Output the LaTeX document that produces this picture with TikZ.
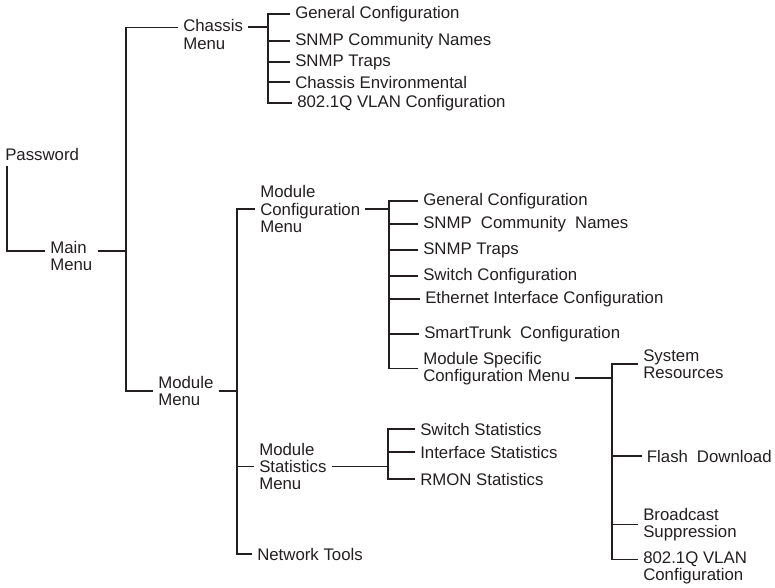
\documentclass[tikz,border=0pt]{standalone}
\usepackage{fontspec}
\setmainfont{Liberation Sans}
\usetikzlibrary{calc}
\definecolor{ink}{HTML}{231F20}
\begin{document}
\begin{tikzpicture}[x=0.75pt,y=-0.75pt,
  lbl/.style={anchor=west, align=left, inner xsep=3.75pt, inner ysep=1pt,
              text=ink, font=\fontsize{12.6}{12.8}\selectfont},
  conn/.style={line width=1.3pt, draw=ink}]
\useasboundingbox (0,0) rectangle (775,587);
% nodes
\node[lbl] (pw) at (0,154) {Password};
\node[lbl] (mainm) at (45,256) {Main\\Menu};
\node[lbl] (chm) at (178,34.5) {Chassis\\Menu};
\node[lbl] (cg1) at (290,14) {General Configuration};
\node[lbl] (cg2) at (290,41) {SNMP Community Names};
\node[lbl] (cg3) at (290,62) {SNMP Traps};
\node[lbl] (cg4) at (290,82) {Chassis Environmental};
\node[lbl] (cg5) at (292,103) {802.1Q VLAN Configuration};
\node[lbl] (modm) at (153,391) {Module\\Menu};
\node[lbl] (mcm) at (255,209) {Module\\Configuration\\Menu};
\node[lbl] (mc1) at (418,201) {General Configuration};
\node[lbl] (mc2) at (418,224) {SNMP\hspace{.27em} Community\hspace{.27em} Names};
\node[lbl] (mc3) at (418,250) {SNMP Traps};
\node[lbl] (mc4) at (418,276) {Switch Configuration};
\node[lbl] (mc5) at (420,299) {Ethernet Interface Configuration};
\node[lbl] (mc6) at (419,334) {SmartTrunk\hspace{.25em} Configuration};
\node[lbl] (mscm) at (418,368.5) {Module Specific\\Configuration Menu};
\node[lbl] (sysres) at (638,364) {System\\Resources};
\node[lbl] (flash) at (641.7,456) {Flash\hspace{.25em} Download};
\node[lbl] (bcast) at (638,524.5) {Broadcast\\Suppression};
\node[lbl] (vlan2) at (638,568) {802.1Q VLAN\\Configuration};
\node[lbl] (msm) at (254,466.5) {Module\\Statistics\\Menu};
\node[lbl] (st1) at (415,429) {Switch Statistics};
\node[lbl] (st2) at (415,452) {Interface Statistics};
\node[lbl] (st3) at (415,479) {RMON Statistics};
\node[lbl] (nt) at (252,554) {Network Tools};
% bus x positions and shifted anchors
\coordinate (bA) at (126,0);
\coordinate (bC) at (268,0);
\coordinate (bD) at (237,0);
\coordinate (bM) at (389,0);
\coordinate (bS) at (611.7,0);
\coordinate (bT) at (388,0);
\coordinate (pwD) at ([xshift=5.25pt,yshift=-3pt]pw.south west);
\coordinate (mainmL) at ([yshift=3.75pt]mainm.west);
\coordinate (mainmR) at ([yshift=3.75pt]mainm.east);
\coordinate (chmL) at ([yshift=5.3pt]chm.west);
\coordinate (chmR) at ([yshift=5.6pt]chm.east);
\coordinate (mscmR) at ([yshift=-7pt]mscm.east);
\coordinate (vlan2L) at ([yshift=6.4pt]vlan2.west);
% connectors
\draw[conn] (pwD) |- (mainmL);
\draw[conn] (mainmR) -- (bA |- mainmR);
\draw[conn] (chmL) -- (bA |- chmL) -- (bA |- modm.west) -- (modm.west);
\draw[conn] (chmR) -- (bC |- chmR);
\draw[conn] (cg1.west) -- (bC |- cg1.west) -- (bC |- cg5.west) -- (cg5.west);
\foreach \n in {cg2,cg3,cg4} \draw[conn] (bC |- \n.west) -- (\n.west);
\draw[conn] (modm.east) -- (bD |- modm.east);
\draw[conn] (mcm.west) -- (bD |- mcm.west) -- (bD |- nt.west) -- (nt.west);
\draw[conn] (bD |- msm.west) -- (msm.west);
\draw[conn] (mcm.east) -- (bM |- mcm.east);
\draw[conn] (mc1.west) -- (bM |- mc1.west) -- (bM |- mscm.west) -- (mscm.west);
\foreach \n in {mc2,mc3,mc4,mc5,mc6} \draw[conn] (bM |- \n.west) -- (\n.west);
\draw[conn] (mscmR) -- (bS |- mscmR);
\draw[conn] (sysres.west) -- (bS |- sysres.west) -- (bS |- vlan2L) -- (vlan2L);
\foreach \n in {flash,bcast} \draw[conn] (bS |- \n.west) -- (\n.west);
\draw[conn] (msm.east) -- (bT |- msm.east);
\draw[conn] (st1.west) -- (bT |- st1.west) -- (bT |- st3.west) -- (st3.west);
\draw[conn] (bT |- st2.west) -- (st2.west);
\end{tikzpicture}
\end{document}
